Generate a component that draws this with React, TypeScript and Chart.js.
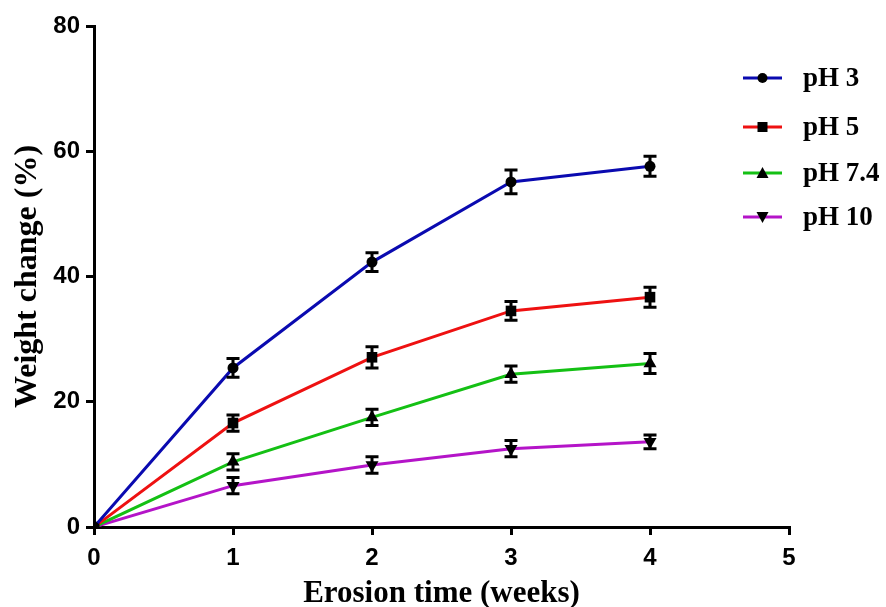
import React, { useEffect, useRef } from "react";
import { Chart, registerables } from "chart.js";

Chart.register(...registerables);

const weeks = [0, 1, 2, 3, 4];
const seriesLabels = ["pH 3", "pH 5", "pH 7.4", "pH 10"];
const pH3 = [0, 25.4, 42.3, 55.1, 57.6];
const pH3Err = [0, 1.5, 1.5, 1.9, 1.6];
const pH5 = [0, 16.6, 27.1, 34.5, 36.7];
const pH5Err = [0, 1.3, 1.7, 1.5, 1.6];
const pH74 = [0, 10.4, 17.5, 24.4, 26.1];
const pH74Err = [0, 1.3, 1.3, 1.3, 1.6];
const pH10 = [0, 6.6, 9.9, 12.5, 13.6];
const pH10Err = [0, 1.3, 1.3, 1.3, 1.1];
const xTicks = [0, 1, 2, 3, 4, 5];
const yTicks = [0, 20, 40, 60, 80];

const colors = ["#0A0AB0", "#EE1111", "#14C014", "#B414C8"];
const markers = ["circle", "rect", "triangle", "triangleDown"];

const allValues = [pH3, pH5, pH74, pH10];
const allErrors = [pH3Err, pH5Err, pH74Err, pH10Err];

const errorBarPlugin = {
  id: "errorBars",
  afterDatasetsDraw(chart: any) {
    const ctx = chart.ctx;
    const xs = chart.scales.x;
    const ys = chart.scales.y;
    ctx.save();
    ctx.strokeStyle = "#000";
    ctx.lineWidth = 3;
    allValues.forEach((vals, si) => {
      vals.forEach((v, i) => {
        const e = allErrors[si][i];
        if (!e) return;
        const x = xs.getPixelForValue(weeks[i]);
        const yt = ys.getPixelForValue(v + e);
        const yb = ys.getPixelForValue(v - e);
        ctx.beginPath();
        ctx.moveTo(x, yt);
        ctx.lineTo(x, yb);
        ctx.moveTo(x - 6.5, yt);
        ctx.lineTo(x + 6.5, yt);
        ctx.moveTo(x - 6.5, yb);
        ctx.lineTo(x + 6.5, yb);
        ctx.stroke();
      });
    });
    ctx.restore();
  },
};

function drawMarker(ctx: CanvasRenderingContext2D, kind: string, x: number, y: number) {
  ctx.fillStyle = "#000";
  ctx.beginPath();
  if (kind === "circle") {
    ctx.arc(x, y, 5, 0, Math.PI * 2);
  } else if (kind === "rect") {
    ctx.rect(x - 5, y - 5, 10, 10);
  } else if (kind === "triangle") {
    ctx.moveTo(x, y - 6);
    ctx.lineTo(x + 6, y + 5);
    ctx.lineTo(x - 6, y + 5);
    ctx.closePath();
  } else {
    ctx.moveTo(x, y + 6);
    ctx.lineTo(x + 6, y - 5);
    ctx.lineTo(x - 6, y - 5);
    ctx.closePath();
  }
  ctx.fill();
}

const legendPlugin = {
  id: "customLegend",
  afterDraw(chart: any) {
    const ctx = chart.ctx;
    const area = chart.chartArea;
    const x0 = area.right - 46;
    const x1 = x0 + 39;
    const tx = x1 + 21;
    const rowYs = [78, 127, 173, 217];
    ctx.save();
    seriesLabels.forEach((label, i) => {
      const y = rowYs[i];
      ctx.strokeStyle = colors[i];
      ctx.lineWidth = 3;
      ctx.beginPath();
      ctx.moveTo(x0, y);
      ctx.lineTo(x1, y);
      ctx.stroke();
      drawMarker(ctx, markers[i], (x0 + x1) / 2, y);
      ctx.fillStyle = "#000";
      ctx.font = "bold 27px 'Liberation Serif', 'Times New Roman', serif";
      ctx.textBaseline = "middle";
      ctx.textAlign = "left";
      ctx.fillText(label, tx, y + 1);
    });
    ctx.restore();
  },
};

export default function App() {
  const ref = useRef<HTMLCanvasElement | null>(null);
  useEffect(() => {
    document.body.style.margin = "0";
    if (!ref.current) return;
    const datasets = allValues.map((vals, i) => ({
      label: seriesLabels[i],
      data: vals.map((v, j) => ({ x: weeks[j], y: v })),
      borderColor: colors[i],
      borderWidth: 3,
      backgroundColor: "#000",
      pointBackgroundColor: "#000",
      pointBorderColor: "#000",
      pointBorderWidth: 0,
      pointStyle: markers[i] === "triangleDown" ? "triangle" : markers[i],
      pointRotation: markers[i] === "triangleDown" ? 180 : 0,
      pointRadius: markers[i] === "rect" ? 7.5 : markers[i] === "circle" ? 5.5 : 7.5,
      tension: 0,
      fill: false,
    }));
    const tickFont = { family: "'Liberation Sans', Arial, sans-serif", weight: "bold" as const, size: 24 };
    const titleFontX = { family: "'Liberation Serif', 'Times New Roman', serif", weight: "bold" as const, size: 31, lineHeight: 0.85 };
    const titleFontY = { family: "'Liberation Serif', 'Times New Roman', serif", weight: "bold" as const, size: 32, lineHeight: 0.85 };
    const chart = new Chart(ref.current, {
      type: "line",
      data: { datasets },
      options: {
        animation: false,
        responsive: false,
        layout: { padding: { top: 26, right: 97, left: 0, bottom: 0 } },
        plugins: { legend: { display: false }, tooltip: { enabled: false } },
        scales: {
          x: {
            type: "linear",
            min: 0,
            max: 5,
            afterBuildTicks: (s: any) => {
              s.ticks = xTicks.map((v) => ({ value: v }));
            },
            afterFit: (s: any) => {
              s.height = 80;
            },
            ticks: { color: "#000", font: tickFont, padding: 9 },
            grid: { display: true, drawOnChartArea: false, color: "#000", lineWidth: 3, tickLength: 8 },
            border: { display: true, color: "#000", width: 3 },
            title: { display: true, text: "Erosion time (weeks)", color: "#000", font: titleFontX, padding: { top: 0, bottom: 0 } },
          },
          y: {
            type: "linear",
            min: 0,
            max: 80,
            afterBuildTicks: (s: any) => {
              s.ticks = yTicks.map((v) => ({ value: v }));
            },
            afterFit: (s: any) => {
              s.width = 94;
            },
            ticks: { color: "#000", font: tickFont, padding: 6 },
            grid: { display: true, drawOnChartArea: false, color: "#000", lineWidth: 3, tickLength: 8 },
            border: { display: true, color: "#000", width: 3 },
            title: { display: true, text: "Weight change (%)", color: "#000", font: titleFontY, padding: { top: 14, bottom: 0 } },
          },
        },
      },
      plugins: [errorBarPlugin, legendPlugin],
    });
    return () => chart.destroy();
  }, []);
  return <canvas ref={ref} width={886} height={607} style={{ display: "block" }} />;
}
